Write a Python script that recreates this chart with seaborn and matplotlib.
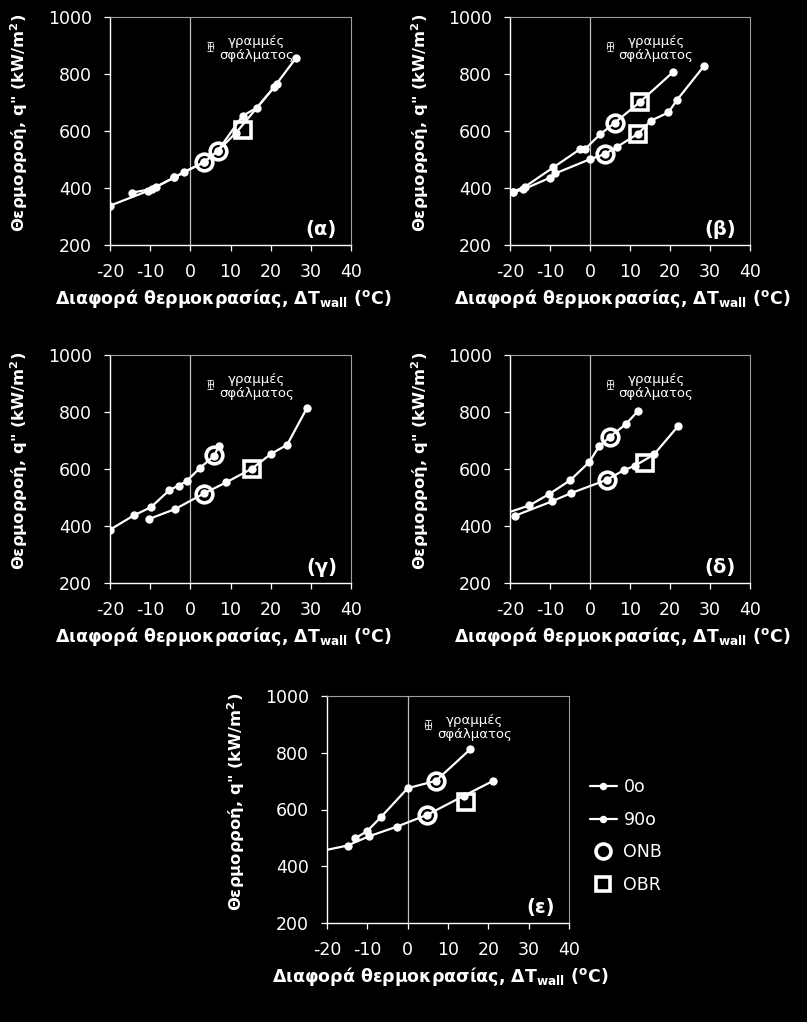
"""
Boiling curves (heat flux vs wall superheat) for five test cases, 0o / 90o.
"""

import matplotlib
matplotlib.use("Agg")  # Non-interactive backend
import matplotlib.pyplot as plt
import seaborn as sns

# ── Data ──────────────────────────────────────────────────────────
# (α)
a_dt_0 = [-20, -10.5, -8.5, -4, -1.5, 3.5, 6.8, 11.4, 20.9, 26.3]
a_q_0 = [338, 390, 404, 437, 457, 490, 530, 594, 755, 856]
a_dt_90 = [-14.4, -9.5, -4, 3.5, 6.8, 13, 16.6, 21.5]
a_q_90 = [384, 397, 437, 492, 530, 653, 682, 764]
a_onb_dt = [3.5, 6.8]
a_onb_q = [490, 530]
a_obr_dt = [13.2]
a_obr_q = [603]

# (β)
b_dt_0 = [-19.3, -16.3, -9.2, -2.5, -1.2, 2.5, 6.2, 12.5, 20.7]
b_q_0 = [387, 404, 472, 536, 537, 588, 629, 702, 806]
b_dt_90 = [-19.3, -16.7, -10, -8.7, 0, 3.7, 6.7, 12.1, 15.2, 19.6, 21.7, 28.5]
b_q_90 = [385, 395, 436, 451, 501, 519, 544, 591, 636, 665, 708, 828]
b_onb_dt = [6.2, 3.7]
b_onb_q = [629, 519]
b_obr_dt = [12.5, 12.1]
b_obr_q = [702, 591]

# (γ)
c_dt_0 = [-20, -14.1, -9.8, -5.2, -2.9, -0.9, 2.5, 6, 7.1]
c_q_0 = [387, 437, 466, 526, 542, 558, 605, 647, 682]
c_dt_90 = [-10.2, -3.7, 3.5, 8.9, 15.3, 20.1, 24.1, 29]
c_q_90 = [425, 460, 515, 553, 601, 653, 685, 813]
c_onb_dt = [6, 3.5]
c_onb_q = [650, 513]
c_obr_dt = [15.3]
c_obr_q = [601]

# (δ)
d_dt_0 = [-22, -15.2, -10.2, -5, -0.2, 2.25, 5, 9, 12.1]
d_q_0 = [440, 472, 512, 560, 624, 679, 713, 758, 805]
d_dt_90 = [-18.75, -9.6, -4.8, 4.2, 8.6, 11.2, 16, 22]
d_q_90 = [436, 486, 515, 562, 597, 611, 651, 750]
d_onb_dt = [5, 4.2]
d_onb_q = [713, 562]
d_obr_dt = [13.7]
d_obr_q = [620]

# (ε)
e_dt_0 = [-13, -10.1, -6.5, 0, 7, 15.5]
e_q_0 = [499, 523, 575, 675, 701, 812]
e_dt_90 = [-22, -14.9, -9.7, -2.6, 4.8, 13.9, 21.2]
e_q_90 = [452, 473, 505, 540, 581, 648, 701]
e_onb_dt = [7, 4.8]
e_onb_q = [701, 581]
e_obr_dt = [14.5]
e_obr_q = [627]

PANELS = [
    ("(α)", a_dt_0, a_q_0, a_dt_90, a_q_90, a_onb_dt, a_onb_q, a_obr_dt, a_obr_q),
    ("(β)", b_dt_0, b_q_0, b_dt_90, b_q_90, b_onb_dt, b_onb_q, b_obr_dt, b_obr_q),
    ("(γ)", c_dt_0, c_q_0, c_dt_90, c_q_90, c_onb_dt, c_onb_q, c_obr_dt, c_obr_q),
    ("(δ)", d_dt_0, d_q_0, d_dt_90, d_q_90, d_onb_dt, d_onb_q, d_obr_dt, d_obr_q),
    ("(ε)", e_dt_0, e_q_0, e_dt_90, e_q_90, e_onb_dt, e_onb_q, e_obr_dt, e_obr_q),
]

# axes boxes in pixels: left, top, right, bottom
BOXES = [
    (110, 17, 351, 245),
    (510, 17, 750, 245),
    (110, 355, 351, 583),
    (510, 355, 750, 583),
    (327, 696, 569, 923),
]

X_TICKS = [-20, -10, 0, 10, 20, 30, 40]
Y_TICKS = [200, 400, 600, 800, 1000]

# ── Style ─────────────────────────────────────────────────────────
sns.set_theme(style="dark", rc={
    "figure.facecolor": "black",
    "axes.facecolor": "black",
    "axes.edgecolor": "white",
    "text.color": "white",
    "axes.labelcolor": "white",
    "xtick.color": "white",
    "ytick.color": "white",
    "xtick.bottom": True,
    "ytick.left": True,
})
plt.rcParams["font.family"] = ["DejaVu Sans"]
plt.rcParams["axes.unicode_minus"] = False
plt.rcParams["mathtext.fontset"] = "custom"
plt.rcParams["mathtext.rm"] = "DejaVu Sans:bold"
plt.rcParams["mathtext.bf"] = "DejaVu Sans:bold"

W, H = 807, 1022
fig = plt.figure(figsize=(W / 100, H / 100), dpi=100)

XLABEL = r"Διαφορά θερμοκρασίας, ΔT$_{\mathrm{wall}}$ ($^{\mathrm{o}}$C)"
YLABEL = r'Θερμορροή, q" (kW/m$^{\mathrm{2}}$)'

line_kw = dict(color="white", linewidth=1.6, marker="o", markersize=6,
               markeredgewidth=0, sort=False, estimator=None)

for i, ((tag, x0, q0, x90, q90, onb_x, onb_q, obr_x, obr_q), box) in enumerate(zip(PANELS, BOXES)):
    l, t, r, b = box
    ax = fig.add_axes([l / W, 1 - b / H, (r - l) / W, (b - t) / H])
    last = i == len(PANELS) - 1

    sns.lineplot(x=x0, y=q0, ax=ax, label="0o" if last else None, **line_kw)
    sns.lineplot(x=x90, y=q90, ax=ax, label="90o" if last else None, **line_kw)
    ax.plot(onb_x, onb_q, ls="none", marker="o", markersize=12, mfc="none",
            mec="white", mew=2.6, label="ONB" if last else None)
    ax.plot(obr_x, obr_q, ls="none", marker="s", markersize=11, mfc="none",
            mec="white", mew=2.6, label="OBR" if last else None)

    ax.axvline(0, color="#bdbdbd", linewidth=0.9, zorder=0)

    # error-bar key
    ax.errorbar(5, 898, xerr=0.7, yerr=16, fmt="none", ecolor="#d0d0d0",
                elinewidth=0.8, capsize=2.2, capthick=0.8)
    ax.text(16.5, 889, "γραμμές\nσφάλματος", ha="center", va="center",
            fontsize=9.5, linespacing=1.05)
    ax.text(36.5, 255, tag, ha="right", va="center", fontsize=14, fontweight="bold")

    ax.set_xlim(-20, 40)
    ax.set_ylim(200, 1000)
    ax.set_xticks(X_TICKS)
    ax.set_yticks(Y_TICKS)
    ax.tick_params(axis="both", length=4, width=0.9, pad=9, labelsize=12.5)
    ax.grid(False)
    for side in ["left", "bottom"]:
        ax.spines[side].set_color("white")
        ax.spines[side].set_linewidth(1.0)
    for side in ["top", "right"]:
        ax.spines[side].set_color("#9e9e9e")
        ax.spines[side].set_linewidth(0.8)

    ax.set_xlabel(XLABEL, fontsize=12.5, fontweight="bold")
    ax.set_ylabel(YLABEL, fontsize=11.8, fontweight="bold")
    ax.xaxis.set_label_coords(0.47, -0.185)
    ax.yaxis.set_label_coords(-0.33, 0.535)

    if last:
        ax.legend(loc="upper left", bbox_to_anchor=(1.06, 0.67), frameon=False,
                  fontsize=12.5, handlelength=1.5, handletextpad=0.4,
                  labelspacing=0.85, borderaxespad=0, markerscale=0.9)
    elif ax.get_legend() is not None:
        ax.get_legend().remove()

fig.savefig("out.png", dpi=100, facecolor="black")
